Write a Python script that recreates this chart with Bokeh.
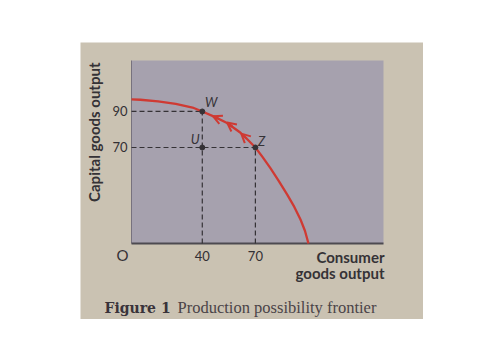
import math
from bokeh.plotting import figure
from bokeh.models import Range1d, Label, Arrow, OpenHead
from bokeh.embed import file_html
from bokeh.resources import INLINE

# ---- data ----
curve_x = [0, 5, 15, 25, 34.5, 40, 47, 54, 61.6, 65, 70, 74, 78.5, 83, 88, 92, 95.5, 98, 100]
curve_y = [96.7, 96.5, 95.6, 94.2, 92.2, 90, 87.0, 83.6, 78.2, 75.0, 70, 64.8, 58.5, 51.8, 43.8, 37.0, 30.0, 23.8, 16.7]

point_names = ["W", "U", "Z"]
point_x = [40, 40, 70]
point_y = [90, 70, 70]

x_ticks = [40, 70]
y_ticks = [70, 90]

arrow_tail_x = [49, 57, 65]
arrow_tail_y = [86.1, 81.6, 75.0]
arrow_head_x = [46, 54, 62]
arrow_head_y = [87.4, 83.9, 77.7]

x_label_lines = ["Consumer", "goods output"]
y_label = "Capital goods output"
caption_bold = "Figure 1"
caption_text = "Production possibility frontier"

# ---- style / geometry ----
PAGE = "#cac2b2"
PANEL = "#a6a1ae"
RED = "#cf3a33"
INK = "#353236"
W, H = 343, 277          # photo (page) size
OX, OY = 80, 42          # page offset in window
PL, PT, PR, PB = 51, 18, 303, 201   # panel edges inside the page (px)

x0, x1 = 0, 142.4        # panel data extent
y0, y1 = 16.7, 118.3
sx = (PR - PL) / (x1 - x0)
sy = (PB - PT) / (y1 - y0)
fx0, fx1 = x0 - PL / sx, x1 + (W - PR) / sx
fy0, fy1 = y0 - (H - PB) / sy, y1 + PT / sy

p = figure(width=W, height=H, output_backend="svg", toolbar_location=None,
           x_range=Range1d(fx0, fx1), y_range=Range1d(fy0, fy1),
           x_axis_type=None, y_axis_type=None,
           min_border=0, min_border_left=0, min_border_right=0, min_border_top=0, min_border_bottom=0)
p.margin = (OY, 0, 0, OX)
p.background_fill_color = PAGE
p.border_fill_color = PAGE
p.outline_line_color = None
p.grid.visible = False

# panel
p.quad(left=[x0], right=[x1], bottom=[y0], top=[y1], fill_color=PANEL, line_color=None)

# axis lines
p.line([x0, x0], [y0, y1], line_color="#77727e", line_width=1)
p.line([x0, x1], [y0, y0], line_color="#4d4a50", line_width=2)

# tick labels
for t in x_ticks:
    p.add_layout(Label(x=t, y=255 - OY, x_units="data", y_units="canvas", text=str(t),
                       text_font="Lato", text_font_size="13px", text_color="#333034",
                       text_align="center", text_baseline="middle"))
for t in y_ticks:
    p.add_layout(Label(x=127 - OX, y=t, x_units="canvas", y_units="data", text=str(t),
                       text_font="Lato", text_font_size="13px", text_color="#333034",
                       text_align="right", text_baseline="middle"))

# dashed guides
p.line([x0, point_x[0]], [point_y[0], point_y[0]], line_dash="5 3", line_color=INK, line_width=1.2)
p.line([point_x[0], point_x[0]], [y0, point_y[0]], line_dash="5 3", line_color=INK, line_width=1.2)
p.line([x0, point_x[2]], [point_y[2], point_y[2]], line_dash="5 3", line_color=INK, line_width=1.2)
p.line([point_x[2], point_x[2]], [y0, point_y[2]], line_dash="5 3", line_color=INK, line_width=1.2)

# frontier
p.line(curve_x, curve_y, line_color=RED, line_width=2.3)

# arrows (chevrons pointing toward W)
for tx, ty, hx, hy in zip(arrow_tail_x, arrow_tail_y, arrow_head_x, arrow_head_y):
    p.add_layout(Arrow(x_start=tx, y_start=ty, x_end=hx, y_end=hy,
                       line_color=RED, line_width=2.3,
                       end=OpenHead(size=9, line_color=RED, line_width=2)))

# points
p.scatter(point_x, point_y, size=5, color=INK)

offsets = {"W": (1.5, 1.0, "left", "bottom"), "U": (-1.5, 0.0, "right", "bottom"), "Z": (1.5, -1.0, "left", "bottom")}
for name, x, y in zip(point_names, point_x, point_y):
    dx, dy, al, bl = offsets[name]
    p.add_layout(Label(x=x + dx, y=y + dy, text=name, text_font="Lato", text_font_style="italic",
                       text_font_size="13px", text_color=INK, text_align=al, text_baseline=bl))


def canvas_label(ax_, ay_, **kw):
    # absolute window pixel -> figure canvas coords (top-down)
    return Label(x=ax_ - OX, y=ay_ - OY, x_units="canvas", y_units="canvas", **kw)


p.add_layout(canvas_label(122, 254, text="O", text_font="Lato", text_font_size="15px",
                          text_color=INK, text_align="center", text_baseline="middle"))
p.add_layout(canvas_label(93, 62, text=y_label, angle=math.pi / 2, text_font="Lato",
                          text_font_style="bold", text_font_size="15px", text_color=INK,
                          text_align="right", text_baseline="middle"))
p.add_layout(canvas_label(384, 256, text=x_label_lines[0], text_font="Lato", text_font_style="bold",
                          text_font_size="15px", text_color=INK, text_align="right", text_baseline="middle"))
p.add_layout(canvas_label(384, 272, text=x_label_lines[1], text_font="Lato", text_font_style="bold",
                          text_font_size="15px", text_color=INK, text_align="right", text_baseline="middle"))
p.add_layout(canvas_label(104, 307, text=caption_bold, text_font="DejaVu Serif", text_font_style="bold",
                          text_font_size="14px", text_color="#39333a", text_align="left", text_baseline="middle"))
p.add_layout(canvas_label(177, 307, text=caption_text, text_font="Liberation Serif",
                          text_font_size="16.5px", text_color="#4a4448", text_align="left", text_baseline="middle"))

open("out.html", "w").write(file_html(p, INLINE))
